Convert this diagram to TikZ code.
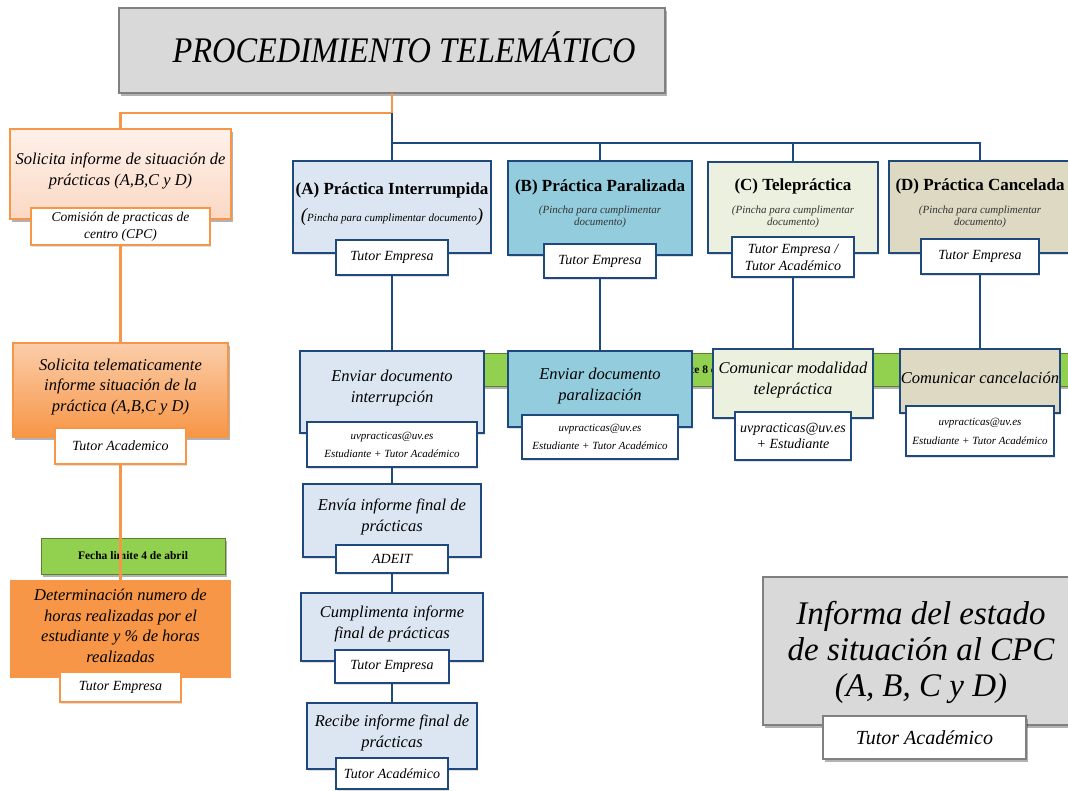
\documentclass[tikz,border=0pt]{standalone}
\usepackage{fontspec}
\setmainfont{Liberation Serif}
\newfontfamily\titlefont[FakeStretch=0.9]{Liberation Serif}
\usetikzlibrary{shadows}
\definecolor{bl}{HTML}{1F497D}
\definecolor{fa}{HTML}{DCE6F2}
\definecolor{fb}{HTML}{93CDDD}
\definecolor{fc}{HTML}{EBF1DE}
\definecolor{fd}{HTML}{DDD9C3}
\definecolor{org}{HTML}{F79646}
\definecolor{peachT}{HTML}{FEF1EA}
\definecolor{peachB}{HTML}{FBD8C4}
\definecolor{orlt}{HTML}{FBCDAA}
\definecolor{grn}{HTML}{92D050}
\definecolor{grnb}{HTML}{5F7F2F}
\definecolor{gfill}{HTML}{D9D9D9}
\definecolor{gbord}{HTML}{808080}
\newcommand\bx[6]{\node[#2, minimum width={(#5-#3)*1pt}, minimum height={(#6-#4)*1pt}] (#1) at ({(#3+#5)/2},{(#4+#6)/2}) {};}
\newcommand\tbx[7]{\node[#2, minimum width={(#5-#3)*1pt}, minimum height={(#6-#4)*1pt}] (#1) at ({(#3+#5)/2},{(#4+#6)/2}) {#7};}
\tikzset{
  base/.style={rectangle, inner sep=0pt, outer sep=0pt, align=center},
  shd/.style={drop shadow={shadow xshift=1.5pt, shadow yshift=-3pt, fill=black, opacity=0.3}},
  lshd/.style={drop shadow={shadow xshift=1pt, shadow yshift=-2pt, fill=black, opacity=0.12}},
  bb/.style={base, draw=bl, line width=2.6pt, lshd},
  ob/.style={base, draw=org, line width=2.5pt},
  blbl/.style={bb, fill=white},
  olbl/.style={ob, fill=white, lshd},
  bline/.style={draw=bl, line width=2.6pt},
  oline/.style={draw=org, line width=2.5pt},
  it/.style={font=\itshape\fontsize{16.5}{20.5}\selectfont, align=center, inner sep=0pt},
  ttl/.style={font=\bfseries\fontsize{17}{20}\selectfont, inner sep=0pt},
  sub/.style={font=\itshape\fontsize{11}{12}\selectfont, align=center, inner sep=0pt, text=black!80},
  lt/.style={font=\itshape\fontsize{14}{17}\selectfont},
  st/.style={font=\itshape\fontsize{11}{18}\selectfont},
  grbox/.style={base, fill=grn, draw=grnb, line width=1pt, shd, font=\bfseries\fontsize{11.5}{13}\selectfont},
}
\begin{document}
\begin{tikzpicture}[x=1pt,y=-1pt]
\useasboundingbox (0,0) rectangle (1068,790);
\clip (0,0) rectangle (1068,790);
\fill[white] (0,0) rectangle (1068,790);

% green bar behind the second row
\bx{gbar}{grbox}{318}{353}{1075}{386}
\begin{scope}
\clip (692,353) rectangle (713,386);
\node[font=\bfseries\fontsize{11.5}{13}\selectfont, inner sep=0pt] (gbart) at (694,370) {Fecha limite 8 de abril};
\end{scope}

% top box
\bx{top}{base, fill=gfill, draw=gbord, line width=1.5pt, shd}{119}{8}{665}{93}
\node[font=\titlefont\itshape\fontsize{36}{40}\selectfont, inner sep=0pt] (topt) at (404,47) {PROCEDIMIENTO TELEM\'ATICO};

% left column
\bx{L1}{ob, top color=peachT, bottom color=peachB, shd}{10}{129}{231}{219}
\node[it] (L1t) at (120.5,171) {Solicita informe de situación de\\prácticas (A,B,C y D)};
\tbx{L1l}{olbl, font=\itshape\fontsize{13.5}{17}\selectfont}{31}{208}{210}{245}{Comisión de practicas de\\centro (CPC)}

\bx{L2}{ob, top color=orlt, bottom color=org, shd}{13}{343}{228}{437}
\node[it] (L2t) at (120.5,387) {Solicita telematicamente\\informe situación de la\\práctica (A,B,C y D)};
\tbx{L2l}{olbl, lt}{55}{428}{186}{464}{Tutor Academico}

\tbx{gl}{grbox}{41}{538}{225}{574}{Fecha limite 4 de abril}

\bx{L3}{base, fill=org}{10}{580}{231}{678}
\node[it] (L3t) at (120.5,626) {Determinación numero de\\horas realizadas por el\\estudiante y \% de horas\\realizadas};
\tbx{L3l}{olbl, lt}{60}{672}{181}{702}{Tutor Empresa}

% column A
\bx{A1}{bb, fill=fa}{293}{161}{491}{253}
\node[ttl] (A1t) at (392,190) {(A) Práctica Interrumpida};
\node[font=\itshape\fontsize{11}{12}\selectfont, inner sep=0pt] (A1s) at (392,217) {{\fontsize{19}{19}\selectfont(}Pincha para cumplimentar documento{\fontsize{19}{19}\selectfont)}};
\tbx{A1l}{blbl, lt}{336}{240}{448}{275}{Tutor Empresa}

\bx{A2}{bb, fill=fa}{300}{351}{484}{433}
\node[it] (A2t) at (392,388) {Enviar documento\\interrupción};
\tbx{A2l}{blbl, st}{307}{422}{477}{467}{uvpracticas@uv.es\\Estudiante + Tutor Académico}

\bx{A3}{bb, fill=fa}{303}{484}{481}{557}
\node[it] (A3t) at (392,517) {Envía informe final de\\prácticas};
\tbx{A3l}{blbl, lt}{336}{545}{448}{573}{ADEIT}

\bx{A4}{bb, fill=fa}{301}{593}{483}{661}
\node[it] (A4t) at (392,624) {Cumplimenta informe\\final de prácticas};
\tbx{A4l}{blbl, lt}{335}{650}{449}{683}{Tutor Empresa}

\bx{A5}{bb, fill=fa}{307}{703}{477}{769}
\node[it] (A5t) at (392,733) {Recibe informe final de\\prácticas};
\tbx{A5l}{blbl, lt}{336}{758}{448}{789}{Tutor Académico}

% column B
\bx{B1}{bb, fill=fb}{508}{161}{692}{255}
\node[ttl] (B1t) at (600,187) {(B) Práctica Paralizada};
\node[sub] (B1s) at (600,217) {(Pincha para cumplimentar\\documento)};
\tbx{B1l}{blbl, lt}{544}{244}{656}{278}{Tutor Empresa}

\bx{B2}{bb, fill=fb}{508}{351}{692}{427}
\node[it] (B2t) at (600,386) {Enviar documento\\paralización};
\tbx{B2l}{blbl, st}{522}{415}{678}{459}{uvpracticas@uv.es\\Estudiante + Tutor Académico}

% column C
\bx{C1}{bb, fill=fc}{708}{162}{878}{253}
\node[ttl] (C1t) at (793,186) {(C) Telepráctica};
\node[sub] (C1s) at (793,217) {(Pincha para cumplimentar\\documento)};
\tbx{C1l}{blbl, lt}{732}{237}{854}{277}{Tutor Empresa /\\Tutor Académico}

\bx{C2}{bb, fill=fc}{713}{349}{873}{418}
\node[it] (C2t) at (793,380) {Comunicar modalidad\\telepráctica};
\tbx{C2l}{blbl, font=\itshape\fontsize{14}{16}\selectfont}{735}{412}{851}{460}{uvpracticas@uv.es\\+ Estudiante}

% column D
\bx{D1}{bb, fill=fd}{889}{161}{1071}{253}
\node[ttl] (D1t) at (980,186) {(D) Práctica Cancelada};
\node[sub] (D1s) at (980,217) {(Pincha para cumplimentar\\documento)};
\tbx{D1l}{blbl, lt}{921}{239}{1039}{274}{Tutor Empresa}

\bx{D2}{bb, fill=fd}{900}{349}{1060}{413}
\node[it] (D2t) at (980,378) {Comunicar cancelación};
\tbx{D2l}{blbl, font=\itshape\fontsize{11}{19}\selectfont}{906}{406}{1054}{456}{uvpracticas@uv.es\\Estudiante + Tutor Académico}

% bottom right
\bx{R}{base, fill=gfill, draw=gbord, line width=1.5pt, shd}{763}{577}{1080}{725}
\node[font=\itshape\fontsize{33}{36}\selectfont, align=center, inner sep=0pt] (Rt) at (921,652) {Informa del estado\\de situación al CPC\\(A, B, C y D)};
\tbx{Rl}{base, fill=white, draw=gbord, line width=1.2pt, shd, font=\itshape\fontsize{20}{22}\selectfont}{823}{716}{1026}{759}{Tutor Académico}

% connectors
\coordinate (j1) at (392,113);
\coordinate (bus) at (392,143);
\draw[oline] (top.south) -- (j1) -| (L1.north);
\draw[oline] (L1l.south) -- (L2.north);
\draw[oline] (L2l.south) -- (L3.north);
\draw[bline] (j1) -- (bus) -- (A1.north);
\draw[bline] (bus) -| (D1.north);
\draw[bline] (bus -| B1.north) -- (B1.north);
\draw[bline] (bus -| C1.north) -- (C1.north);
\draw[bline] (A1l.south) -- (A2.north);
\draw[bline] (A2l.south) -- (A3.north);
\draw[bline] (A3l.south) -- (A4.north);
\draw[bline] (A4l.south) -- (A5.north);
\draw[bline] (B1l.south) -- (B2.north);
\draw[bline] (C1l.south) -- (C2.north);
\draw[bline] (D1l.south) -- (D2.north);
\end{tikzpicture}
\end{document}
